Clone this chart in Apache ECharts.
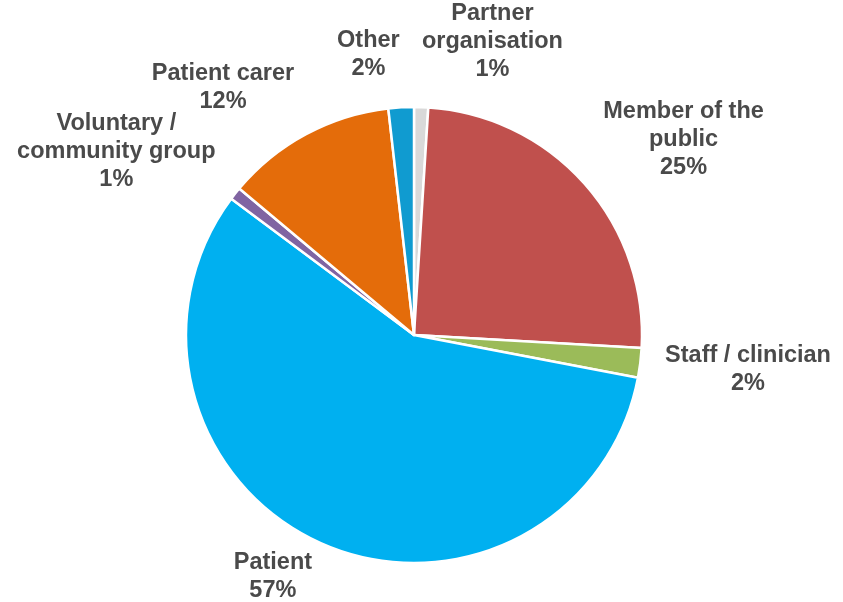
<!DOCTYPE html>
<html>
<head>
<meta charset="utf-8">
<script src="https://cdn.jsdelivr.net/npm/echarts@6/dist/echarts.min.js"></script>
<style>html,body{margin:0;padding:0;background:#fff}#c{width:843px;height:602px}</style>
</head>
<body>
<div id="c"></div>
<script>
// Data (clockwise from 12 o'clock)
const categories = ["Partner\norganisation", "Member of the\npublic", "Staff / clinician", "Patient", "Voluntary /\ncommunity group", "Patient carer", "Other"];
const values = [1.0, 24.9, 2.1, 57.2, 0.9, 12.1, 1.8];
const colors = ["#D9D9D9", "#C0504D", "#9BBB59", "#00B0F0", "#8064A2", "#E46C0A", "#109BD0"];

// Layout constants
const W = 843, H = 602;
const CX = 414, CY = 335, R = 228, GAP = 25;

const total = values.reduce((a, b) => a + b, 0);
const mids = [];
let acc = 0;
values.forEach(v => { mids.push((acc + v / 2) / total * 2 * Math.PI); acc += v; });

const chart = echarts.init(document.getElementById('c'), null, {renderer: 'canvas'});
chart.setOption({
  animation: false,
  series: [{
    type: 'pie',
    center: [CX, CY],
    radius: R,
    startAngle: 90,
    clockwise: true,
    avoidLabelOverlap: false,
    percentPrecision: 0,
    data: categories.map((c, i) => ({name: c, value: values[i], itemStyle: {color: colors[i]}})),
    itemStyle: {borderColor: '#fff', borderWidth: 2.5},
    label: {
      show: true,
      position: 'outside',
      formatter: '{b}\n{d}%',
      fontFamily: 'Liberation Sans, Arial, sans-serif',
      fontWeight: 'bold',
      fontSize: 23.5,
      lineHeight: 28,
      color: '#4A4A4A',
      align: 'center'
    },
    labelLine: {show: false},
    labelLayout: function (p) {
      const a = mids[p.dataIndex];
      const ux = Math.sin(a), uy = -Math.cos(a);
      const w = p.labelRect.width, h = p.labelRect.height;
      let x = CX + (R + GAP) * ux + Math.sign(ux) * w / 2;
      let y = CY + (R + GAP) * uy + uy * h / 2;
      x = Math.max(w / 2, Math.min(W - w / 2, x));
      y = Math.max(h / 2, Math.min(H - h / 2 + 3, y));
      return {x: x, y: y, align: 'center', verticalAlign: 'middle'};
    },
    emphasis: {disabled: true}
  }]
});
</script>
</body>
</html>
